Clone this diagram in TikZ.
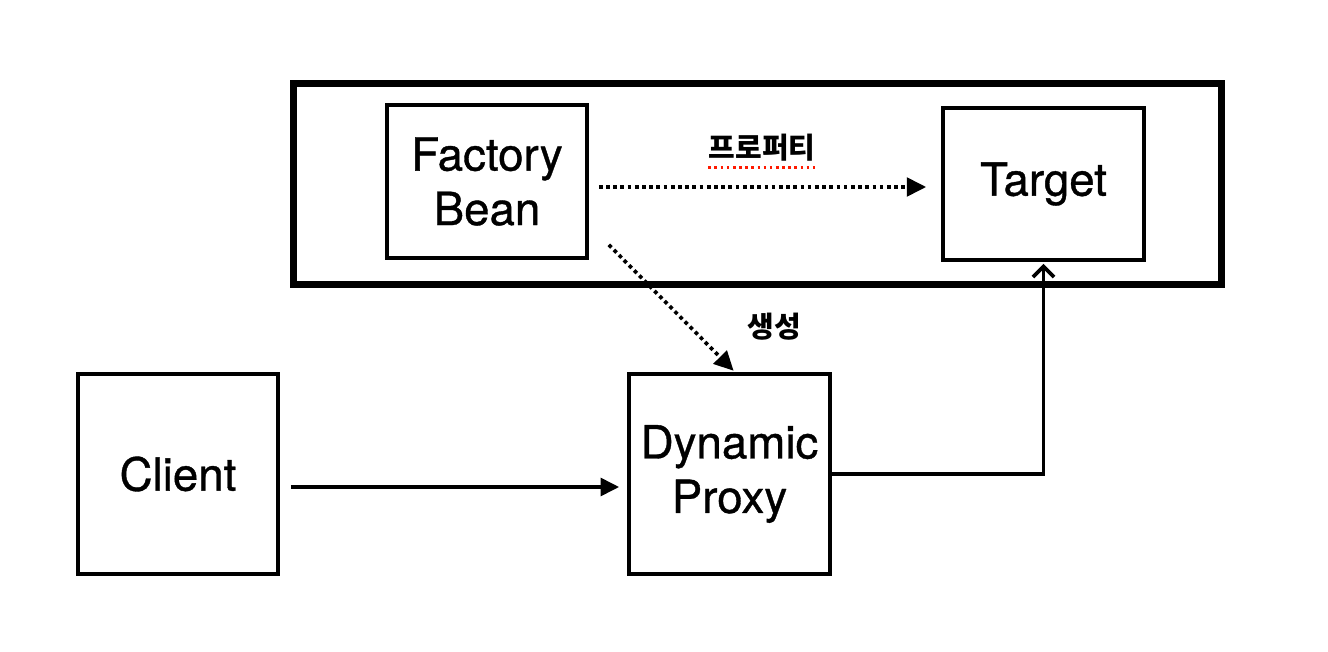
\documentclass[tikz,border=0pt]{standalone}
\usepackage{fontspec}
\setmainfont{TeX Gyre Heros}
\newfontfamily\boxfont{TeX Gyre Heros}[FakeBold=0.8]
\newfontfamily\krfont{Noto Sans CJK KR}
\usetikzlibrary{arrows.meta}

\tikzset{
  box/.style={draw,line width=2.1pt,inner sep=0pt,align=center,
    font=\boxfont\fontsize{26}{31}\selectfont},
  krlabel/.style={font=\krfont\bfseries\fontsize{16.5}{19}\selectfont,inner sep=0pt},
  solidarrow/.style={line width=2.1pt,-{Triangle[length=10.5pt,width=10pt]}},
  dotarrow/.style={line width=2.1pt,dash pattern=on 2.1pt off 2pt,
    -{Triangle[length=11pt,width=10.5pt]}}
}

\begin{document}
\begin{tikzpicture}[x=0.02cm,y=-0.02cm]
      \useasboundingbox (0,0) rectangle (1328,652) ;
      \draw[line width=4pt] (293.5,83.5) rectangle (1221,284.5) ;
      \node[box,minimum width=4cm,minimum height=3.06cm] %
      (factory) at (487,181.5) {Factory\\Bean} ;
      \node[box,minimum width=4.02cm,minimum height=3.04cm] %
      (target) at (1043.5,184) {Target} ;
      \node[box,minimum width=4cm,minimum height=4cm] %
      (client) at (178,474) {Client} ;
      \node[box,minimum width=4.02cm,minimum height=4cm] %
      (proxy) at (729.5,474) {Dynamic\\Proxy} ;
      \draw[dotarrow,shorten <=0.2cm,shorten >=0.3cm] %
      ([yshift=-0.11cm]factory.east) -- ([yshift=-0.11cm]factory.east -| target.west) ;
      \node[krlabel] (prop) at (762,148) {프로퍼티} ;
      \draw[red!80!orange,line width=1.5pt,dash pattern=on 1.5pt off 2pt] %
      ([yshift=-3pt]prop.south west) -- ([yshift=-3pt]prop.south east) ;
      \draw[dotarrow,shorten >=0.04cm] %
      ([xshift=0.4cm,yshift=0.3cm]factory.south east) -- ([xshift=0.11cm]proxy.north) ;
      \node[krlabel] (make) at (774,327) {생성} ;
      \draw[solidarrow,shorten <=0.22cm,shorten >=0.16cm] %
      ([yshift=-0.26cm]client.east) -- ([yshift=-0.26cm]client.east -| proxy.west) ;
      \draw[line width=2.1pt,-{Straight Barb[length=6pt,width=12pt]},shorten >=0.04cm] %
      (proxy.east) -| (target.south) ;
    \end{tikzpicture}
\end{document}
